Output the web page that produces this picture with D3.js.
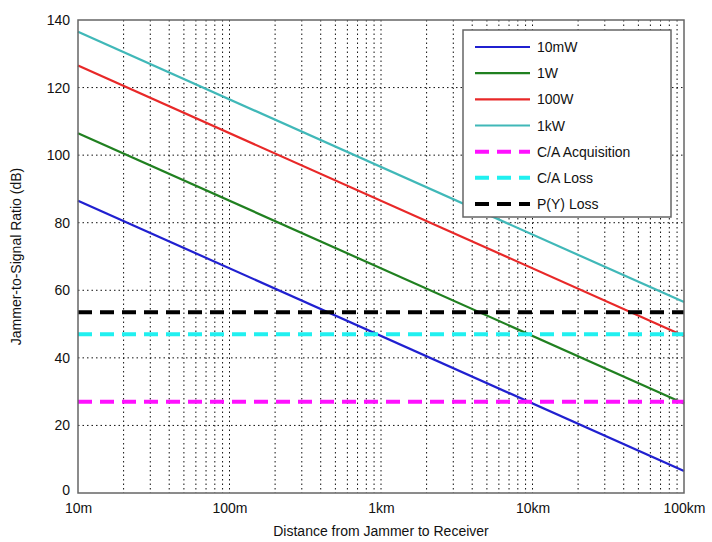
<!DOCTYPE html>
<html>
<head>
<meta charset="utf-8">
<title>Jammer-to-Signal Ratio</title>
<script src="https://d3js.org/d3.v7.min.js"></script>
<style>
    body { margin: 0; background: #fff; }
    svg text { font-family: "Liberation Sans", Arial, sans-serif; fill: #111; }
    .grid line { stroke: #111; stroke-width: 1; stroke-dasharray: 1.5,3; }
</style>
</head>
<body>
<svg id="chart" width="712" height="542"></svg>
<script>
// distances in metres (log axis)
var distances = [10, 100000];
var xTickValues = [10, 100, 1000, 10000, 100000];
var xTickLabels = ["10m", "100m", "1km", "10km", "100km"];
var yTickValues = [0, 20, 40, 60, 80, 100, 120, 140];

// jammer power curves: J/S at 10m and at 100km
var powerNames = ["10mW", "1W", "100W", "1kW"];
var powerColors = ["#2020d0", "#208020", "#e82828", "#40b8b8"];
var powerValues = [
    [86.5, 6.5],
    [106.5, 26.5],
    [126.5, 46.5],
    [136.5, 56.5]
];

// threshold levels
var thresholdNames = ["C/A Acquisition", "C/A Loss", "P(Y) Loss"];
var thresholdColors = ["#ff10ff", "#20f0f0", "#000000"];
var thresholdValues = [27, 47, 53.5];

var svg = d3.select("#chart");
var pLeft = 78, pRight = 684, pTop = 20, pBottom = 493;

var x = d3.scaleLog().domain([10, 100000]).range([pLeft, pRight]);
var y = d3.scaleLinear().domain([0, 140]).range([pBottom, pTop]);

// minor + major vertical grid
var minorX = [];
for (var d = 10; d < 100000; d *= 10) {
    for (var k = 1; k <= 9; k++) minorX.push(d * k);
}

var grid = svg.append("g").attr("class", "grid");
grid.selectAll("line.v").data(minorX.filter(function(v){ return v > 10; }))
    .enter().append("line").attr("class", "v")
    .attr("x1", function(v){ return x(v); }).attr("x2", function(v){ return x(v); })
    .attr("y1", pTop).attr("y2", pBottom);
grid.selectAll("line.h").data(yTickValues.filter(function(v){ return v > 0 && v < 140; }))
    .enter().append("line").attr("class", "h")
    .attr("x1", pLeft).attr("x2", pRight)
    .attr("y1", function(v){ return y(v); }).attr("y2", function(v){ return y(v); });

// power curves
var line = d3.line()
    .x(function(p){ return x(p[0]); })
    .y(function(p){ return y(p[1]); });

powerValues.forEach(function(vals, i) {
    svg.append("path")
        .datum(distances.map(function(dd, j){ return [dd, vals[j]]; }))
        .attr("d", line)
        .attr("fill", "none")
        .attr("stroke", powerColors[i])
        .attr("stroke-width", 2.2);
});

// threshold lines
thresholdValues.forEach(function(v, i) {
    svg.append("path")
        .datum(distances.map(function(dd){ return [dd, v]; }))
        .attr("d", line)
        .attr("fill", "none")
        .attr("stroke", thresholdColors[i])
        .attr("stroke-width", 4)
        .attr("stroke-dasharray", "14,8");
});

// frame
svg.append("rect")
    .attr("x", pLeft).attr("y", pTop)
    .attr("width", pRight - pLeft).attr("height", pBottom - pTop)
    .attr("fill", "none").attr("stroke", "#666").attr("stroke-width", 1.5);

// axes
var xAxis = d3.axisBottom(x).tickValues(xTickValues)
    .tickFormat(function(d, i){ return xTickLabels[i]; })
    .tickSize(0).tickPadding(10);
var gx = svg.append("g").attr("transform", "translate(0," + pBottom + ")").call(xAxis);
gx.select(".domain").remove();
gx.selectAll("text").style("font-size", "14px");

var yAxis = d3.axisLeft(y).tickValues(yTickValues).tickSize(0).tickPadding(8);
var gy = svg.append("g").attr("transform", "translate(" + pLeft + ",0)").call(yAxis);
gy.select(".domain").remove();
gy.selectAll("text").style("font-size", "14px");
// the "0" label sits a little higher in the original, above "10m"
gy.selectAll(".tick").filter(function(v){ return v === 0; }).select("text").attr("dy", "0.1em");

svg.append("text")
    .attr("x", (pLeft + pRight) / 2).attr("y", 536)
    .attr("text-anchor", "middle")
    .style("font-size", "14px")
    .text("Distance from Jammer to Receiver");

svg.append("text")
    .attr("transform", "translate(21," + ((pTop + pBottom) / 2) + ") rotate(-90)")
    .attr("text-anchor", "middle")
    .style("font-size", "14px")
    .text("Jammer-to-Signal Ratio (dB)");

// legend
var legend = svg.append("g");
legend.append("rect")
    .attr("x", 463).attr("y", 30).attr("width", 208).attr("height", 187)
    .attr("fill", "#fff").attr("stroke", "#666").attr("stroke-width", 1.5);

var items = powerNames.map(function(n, i){ return {name: n, color: powerColors[i], dashed: false}; })
    .concat(thresholdNames.map(function(n, i){ return {name: n, color: thresholdColors[i], dashed: true}; }));

var rowY = d3.scalePoint().domain(d3.range(items.length)).range([47, 204]);

items.forEach(function(it, i) {
    var yy = rowY(i);
    legend.append("line")
        .attr("x1", 475).attr("x2", 530).attr("y1", yy).attr("y2", yy)
        .attr("stroke", it.color)
        .attr("stroke-width", it.dashed ? 4 : 2.2)
        .attr("stroke-dasharray", it.dashed ? "14,8" : null);
    legend.append("text")
        .attr("x", 537).attr("y", yy + 5)
        .style("font-size", "14px")
        .text(it.name);
});
</script>
</body>
</html>
